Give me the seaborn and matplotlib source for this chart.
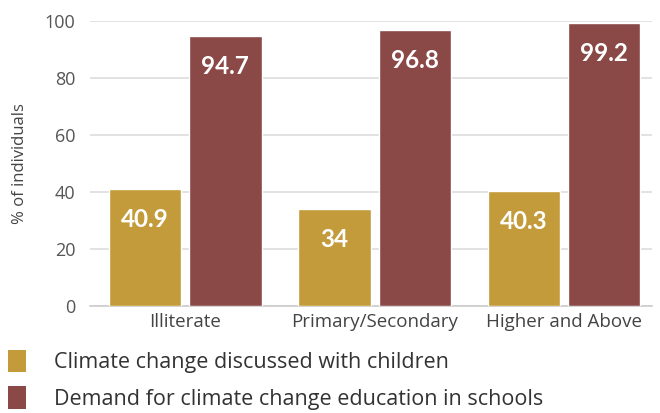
import matplotlib
matplotlib.use("Agg")
import matplotlib.pyplot as plt
import seaborn as sns
import pandas as pd
from matplotlib.patches import Patch

categories = ["Illiterate", "Primary/Secondary", "Higher and Above"]
series_names = ["Climate change discussed with children",
                "Demand for climate change education in schools"]
discussed = [40.9, 34, 40.3]
demand = [94.7, 96.8, 99.2]
value_labels = [["40.9", "34", "40.3"], ["94.7", "96.8", "99.2"]]
yticks = [0, 20, 40, 60, 80, 100]
colors = ["#C49B3A", "#8A4947"]

df = pd.DataFrame({
    "cat": categories * 2,
    "series": [series_names[0]] * 3 + [series_names[1]] * 3,
    "val": discussed + demand,
})

sns.set_theme(style="white")
plt.rcParams["font.family"] = ["Open Sans", "DejaVu Sans"]

fig = plt.figure(figsize=(6.6, 4.13), dpi=100)
ax = fig.add_axes([0.137, 0.259, 0.851, 0.691])

sns.barplot(data=df, x="cat", y="val", hue="series", order=categories,
            hue_order=series_names, palette=colors, width=0.85, gap=0.1,
            saturation=1, ax=ax, legend=False, zorder=3)

ax.set_ylim(0, 100)
ax.set_xlim(-0.5, 2.465)
ax.set_yticks(yticks)
ax.set_yticklabels([str(t) for t in yticks], fontsize=13, color="#555555")
ax.tick_params(axis="x", labelsize=13.5, labelcolor="#444444", length=0, pad=5)
ax.tick_params(axis="y", length=0, pad=11)
ax.set_xlabel("")
ax.set_ylabel("% of individuals", fontsize=12, color="#444444", labelpad=12)
ax.yaxis.grid(True, color="#dddddd", linewidth=1.2, zorder=0)
ax.set_axisbelow(True)
for s in ["top", "right", "left"]:
    ax.spines[s].set_visible(False)
ax.spines["bottom"].set_color("#cccccc")
ax.spines["bottom"].set_linewidth(1.2)

for cont, labs in zip(ax.containers, value_labels):
    for bar, lab in zip(cont, labs):
        x = bar.get_x() + bar.get_width() / 2
        top = bar.get_height()
        ax.annotate(lab, (x, top), xytext=(0, -22), textcoords="offset points",
                    ha="center", va="center", color="white", fontsize=17.5,
                    fontweight="bold", family=["Lato", "DejaVu Sans"],
                    zorder=5)

handles = [Patch(facecolor=c, edgecolor="none") for c in colors]
fig.legend(handles, series_names, loc="upper left",
           bbox_to_anchor=(0.012, 0.153), frameon=False, fontsize=15.5,
           handlelength=0.85, handleheight=1.2, handletextpad=1.3,
           labelspacing=0.62, borderpad=0, borderaxespad=0,
           labelcolor="#333333")

fig.savefig("out.png", dpi=100)
